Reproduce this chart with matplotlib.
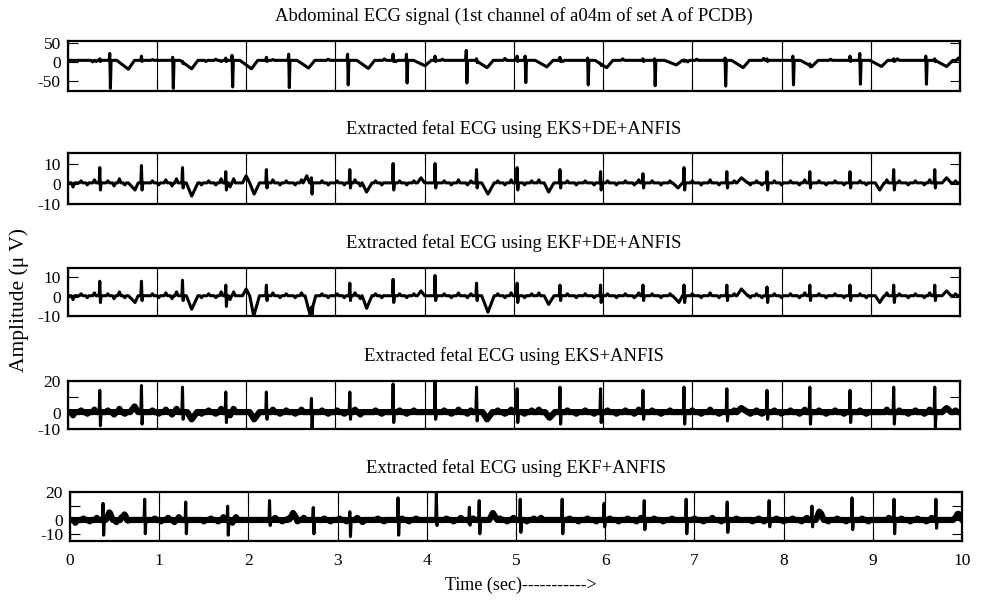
import numpy as np
import matplotlib
matplotlib.use("Agg")
from matplotlib import pyplot as plt

plt.rcParams["font.family"] = ["Liberation Serif", "DejaVu Serif"]

# maternal beats in the abdominal lead: R time, small upstroke, deep QRS, T-trough time, T-trough depth
matR = [0.475, 1.18, 1.845, 2.48, 3.14, 3.80, 4.47, 5.13, 5.83, 6.58, 7.37, 8.13, 8.88, 9.62]
matUp = [22, 12, 17, 20, 20, 20, 30, 15, 10, 8, 10, 15, 22, 15]
matDn = [-69, -69, -65, -67, -60, -55, -55, -54, -60, -62, -63, -60, -58, -58]
matT = [0.68, 1.39, 2.06, 2.70, 3.37, 4.005, 4.70, 5.37, 6.04, 6.82, 7.57, 8.34, 9.12, 9.85]
matTd = [-19, -18, -18, -16, -17, -10, -15, -13, -15, -8, -15, -12, -12, -12]

# fetal complexes riding on the abdominal lead
abdFetT = [0.363, 0.83, 1.29, 1.775, 2.23, 3.65, 4.12, 4.585, 5.04, 5.52, 5.975, 6.45, 6.91, 7.84, 8.32, 8.77, 9.26, 9.72]
abdFetUp = [8, 15, 6, 10, 12, 20, 15, 10, 15, 12, 5, 8, 5, 8, 8, 15, 8, 8]
abdMinor = [(0.28, -4), (0.32, -3), (0.95, 2), (1.55, -3), (1.66, 3), (1.72, -3), (2.30, 2), (2.92, 3),
            (3.55, 4), (3.68, -3), (4.20, 3), (4.90, 5), (5.55, -3), (6.22, 4), (6.95, -4), (7.05, 3),
            (7.80, 5), (8.55, 3), (9.30, 4), (9.98, 6)]

# extracted fetal ECG: R-peak times (s), peak and trough amplitudes (uV)
fetT = [0.363, 0.83, 1.29, 1.775, 2.23, 2.735, 3.165, 3.65, 4.12, 4.585, 5.04,
        5.52, 5.975, 6.45, 6.91, 7.39, 7.84, 8.32, 8.77, 9.26, 9.72]
eksDeUp = [8, 9, 8, 6, 7, 3, 7, 10, 10, 7, 8, 7, 6, 5, 8, 6, 6, 6, 6, 7, 7]
eksDeDn = [-3, -3, -2, -3, -2, -5, -2, -3, -2, -2, -3, -2, -3, -2, -3, -2, -3, -2, -2, -3, -2]
ekfDeUp = [8, 8, 8.5, 6, 6, 3, 7, 9, 11, 7, 7, 6, 6, 6, 6, 6, 5, 6, 6, 6, 6]
ekfDeDn = [-3, -2, -2, -5, -2, -4, -2, -3, -2, -2, -3, -2, -3, -2, -3, -2, -3, -2, -2, -3, -2]
eksUp = [14, 17, 16, 13, 13, 9, 13, 18, 19.5, 16, 15, 16, 15, 14, 16, 15, 14, 16, 14, 16, 16]
eksDn = [-8, -7, -4, -6, -4, -11, -4, -6, -4, -5, -6, -7, -6, -4, -7, -5, -4, -7, -6, -7, -9]
ekfT = [0.373, 0.84, 1.30, 1.77, 2.24, 2.73, 3.14, 3.68, 4.11, 4.48, 4.59, 5.05, 5.52,
        5.99, 6.44, 6.91, 7.37, 7.84, 8.32, 8.77, 9.24, 9.71]
ekfUp = [12, 15, 13, 10, 14, 9, 6, 16, 20, 10, 14, 15, 15, 12, 14, 15, 13, 14, 10, 16, 15, 15]
ekfDn = [-11, -10, -10, -11, -4, -10, -12, -11, -4, -3, -10, -9, -10, -5, -7, -10, -9, -5, -5, -7, -10, -6]

# residual maternal T-waves and slow humps: start, centre, value, end
eksDeWaves = [(0.68, 0.755, -3, 0.79), (1.33, 1.39, -6, 1.46), (1.96, 2.0, 4, 2.04), (2.04, 2.09, -5, 2.15),
              (2.64, 2.68, 4, 2.71), (3.30, 3.35, -4, 3.41), (3.92, 3.96, 3, 4.0), (4.64, 4.71, -5, 4.78),
              (5.34, 5.39, -4, 5.45), (6.78, 6.84, -2, 6.89), (7.50, 7.55, 3, 7.62), (9.05, 9.1, -3, 9.15),
              (9.80, 9.85, 3, 9.90)]
ekfDeWaves = [(0.68, 0.755, -3, 0.79), (1.33, 1.39, -6.5, 1.46), (1.96, 2.0, 4, 2.04), (2.04, 2.085, -10, 2.15),
              (2.66, 2.72, -10, 2.78), (3.30, 3.35, -6, 3.41), (3.92, 3.96, 3, 4.0), (4.64, 4.71, -8, 4.78),
              (5.34, 5.39, -4, 5.45), (6.78, 6.85, -3, 6.89), (7.50, 7.55, 4, 7.62), (9.05, 9.1, -3, 9.15),
              (9.80, 9.85, 3, 9.90)]
eksWaves = [(0.70, 0.75, 4, 0.79), (1.34, 1.39, -4, 1.45), (2.04, 2.09, -4, 2.15), (4.65, 4.70, -4, 4.76),
            (5.35, 5.40, -3, 5.46), (7.50, 7.55, 3, 7.62), (9.80, 9.85, 3, 9.90)]
ekfWaves = [(0.40, 0.44, 5, 0.48), (0.58, 0.61, 4, 0.65), (2.46, 2.50, 5, 2.55), (4.70, 4.74, 5, 4.79),
            (8.36, 8.40, 6, 8.45), (9.90, 9.96, 4, 10.0)]

# small baseline wiggles between complexes: time, value
fetMinor = [(0.06, -2), (0.15, 1), (0.22, -1), (0.30, 1.5), (0.45, 1), (0.52, -1.5), (0.58, 2), (0.64, -1),
            (0.95, 1), (1.02, -1), (1.10, 1.5), (1.17, -1.5), (1.22, 2), (1.50, -1), (1.58, 1), (1.66, -1),
            (1.72, 2), (1.82, -2), (1.86, 2), (2.30, 1.5), (2.38, -1), (2.45, 1), (2.55, -1), (2.62, 1.5),
            (2.85, 1), (2.92, -1), (3.02, 1), (3.10, -1), (3.22, 1.5), (3.28, -1.5), (3.45, 1), (3.52, -1),
            (3.72, 1), (3.80, -1), (3.88, 1), (4.22, 1), (4.30, -1), (4.38, 1.5), (4.48, -1), (4.52, 1),
            (4.82, 1), (4.90, -1), (4.97, 1.5), (5.12, -1), (5.20, 1), (5.28, 1.5), (5.60, 1), (5.70, -1),
            (5.80, 1), (5.90, -1), (6.05, 1), (6.15, -1), (6.25, 1), (6.35, -1), (6.40, 1.5), (6.55, 1),
            (6.65, -1), (6.75, 1), (7.00, 1), (7.10, -1), (7.20, 1.5), (7.30, -1), (7.47, 1),
            (7.65, -1), (7.72, 1), (7.78, -1), (7.92, 1), (8.00, -1), (8.10, 1), (8.20, -1), (8.26, 1.5),
            (8.42, 1), (8.50, -1), (8.60, 1), (8.70, -1), (8.88, 1), (8.95, -1), (9.18, 1.5),
            (9.32, 1), (9.42, -1), (9.50, 1), (9.60, -1), (9.66, 1.5), (9.95, 1)]


def shapeSum(base, shapes):
    # every shape is a list of (t, offset) knots that starts and ends at zero offset
    ts = sorted(set([0.0, 10.0] + [k[0] for s in shapes for k in s]))
    ts = np.array([t for t in ts if 0.0 <= t <= 10.0])
    y = np.full(len(ts), float(base))
    for s in shapes:
        y += np.interp(ts, [k[0] for k in s], [k[1] for k in s], left=0.0, right=0.0)
    return ts, y


def spikeShapes(base, times, ups, dns):
    return [[(t - 0.010, 0), (t - 0.003, u - base), (t + 0.004, d - base), (t + 0.012, 0)]
            for t, u, d in zip(times, ups, dns)]


def waveShapes(base, waves):
    return [[(t0, 0), (t, v - base), (t1, 0)] for t0, t, v, t1 in waves]


def minorShapes(minor):
    return [[(t - 0.018, 0), (t, v), (t + 0.018, 0)] for t, v in minor]


abdSlow = waveShapes(4, [(tt - 0.13, tt, td, tt + 0.07) for tt, td in zip(matT, matTd)]) + minorShapes(abdMinor)
abdFast = spikeShapes(4, matR, matUp, matDn) + spikeShapes(4, abdFetT, abdFetUp, [1] * len(abdFetT))

panels = [
    ("Abdominal ECG signal (1st channel of a04m of set A of PCDB)", 4, abdSlow, abdFast,
     (-75, 55), [-50, 0, 50], ["-50", "0", "50"], False),
    ("Extracted fetal ECG using EKS+DE+ANFIS", 0.5, waveShapes(0.5, eksDeWaves) + minorShapes(fetMinor),
     spikeShapes(0.5, fetT, eksDeUp, eksDeDn), (-10, 15), [-10, 0, 10], ["-10", "0", "10"], False),
    ("Extracted fetal ECG using EKF+DE+ANFIS", 0.5, waveShapes(0.5, ekfDeWaves) + minorShapes(fetMinor),
     spikeShapes(0.5, fetT, ekfDeUp, ekfDeDn), (-10, 15), [-10, 0, 10], ["-10", "0", "10"], False),
    ("Extracted fetal ECG using EKS+ANFIS", 0.5, waveShapes(0.5, eksWaves) + minorShapes(fetMinor),
     spikeShapes(0.5, fetT, eksUp, eksDn), (-10, 20), [-10, 0, 10, 20], ["-10", "0", "", "20"], True),
    ("Extracted fetal ECG using EKF+ANFIS", 0.0, waveShapes(0.0, ekfWaves) + minorShapes(fetMinor),
     spikeShapes(0.0, ekfT, ekfUp, ekfDn), (-15, 20), [-10, 0, 10, 20], ["-10", "0", "", "20"], True),
]

boxes = [
    [0.0689, 0.8488, 0.9087, 0.0833],
    [0.0689, 0.6595, 0.9087, 0.0850],
    [0.0689, 0.4733, 0.9087, 0.0805],
    [0.0689, 0.2850, 0.9087, 0.0805],
    [0.0713, 0.0988, 0.9084, 0.0807],
]

fig = plt.figure(figsize=(9.82, 6.0), dpi=100)
for i, (title, base, slow, fast, ylim, yticks, ylabels, noisy) in enumerate(panels):
    ax = fig.add_axes(boxes[i])
    if noisy:
        # broad band for the residual noise floor
        bx, by = shapeSum(base, slow)
        ax.plot(bx, by, color="black", lw=4.5, solid_joinstyle="round", solid_capstyle="round")
    tx, ty = shapeSum(base, slow + fast)
    ax.plot(tx, ty, color="black", lw=2.2, solid_joinstyle="round")
    ax.set_xlim(0, 10)
    ax.set_ylim(*ylim)
    ax.set_yticks(yticks)
    ax.set_yticklabels(ylabels)
    ax.set_xticks(range(0, 11))
    ax.grid(axis="x", color="black", lw=0.8, ls="-")
    ax.tick_params(direction="in", top=True, right=True, length=7, width=0.8, labelsize=12.5, pad=5)
    if i < len(panels) - 1:
        ax.tick_params(labelbottom=False)
    else:
        ax.tick_params(axis="x", pad=9)
    for s in ax.spines.values():
        s.set_linewidth(1.6)
    ax.set_title(title, fontsize=13.4, pad=14)

fig.text(0.019, 0.5, "Amplitude (\u03bc V)", rotation=90, va="center", ha="center", fontsize=15.5)
fig.text(0.5305, 0.025, "Time (sec)----------->", va="center", ha="center", fontsize=13)

fig.savefig("out.png", dpi=100)
